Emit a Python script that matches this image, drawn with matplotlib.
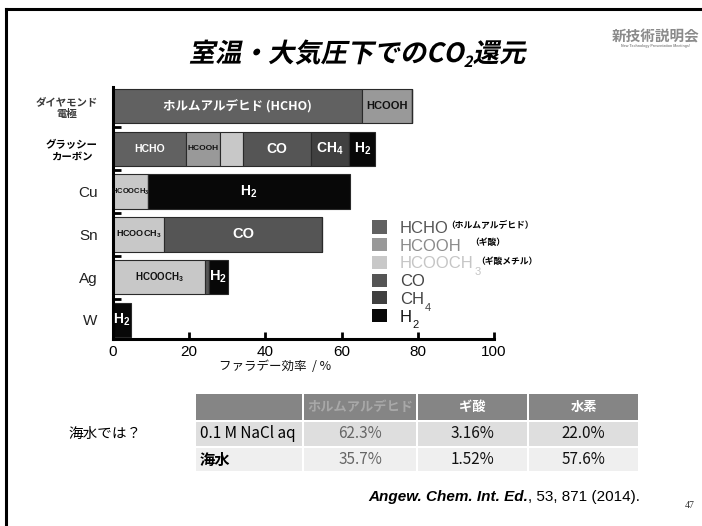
import matplotlib
matplotlib.use("Agg")
import matplotlib.pyplot as plt
from matplotlib.patches import Rectangle
from matplotlib.patheffects import AbstractPathEffect
from matplotlib.transforms import Affine2D
from matplotlib.lines import Line2D

W_PX, H_PX = 702, 526
JP = ["Noto Sans CJK JP", "DejaVu Sans"]
SANS = ["Liberation Sans", "DejaVu Sans"]

plt.rcParams["mathtext.fontset"] = "custom"
plt.rcParams["mathtext.rm"] = "Liberation Sans:bold"
plt.rcParams["mathtext.it"] = "Liberation Sans:bold"
plt.rcParams["mathtext.bf"] = "Liberation Sans:bold"

# ---- Faradaic efficiency (%) per electrode, stacked by product ----
electrodes = ["ダイヤモンド\n電極", "グラッシー\nカーボン", "Cu", "Sn", "Ag", "W"]
positions = [5, 4, 3, 2, 1, 0]
products = ["HCHO", "HCOOH", "HCOOCH3", "CO", "CH4", "H2"]
hcho = [65.3, 19.2, 0, 0, 0, 0]
hcooh = [13.2, 8.9, 0, 0, 0, 0]
hcooch3 = [0, 5.9, 9.1, 13.5, 24.2, 0]
co = [0, 18.0, 0, 41.3, 0.9, 0]
ch4 = [0, 10.0, 0, 0, 0, 0]
h2 = [0, 6.8, 53.1, 0, 5.0, 4.6]
series = [hcho, hcooh, hcooch3, co, ch4, h2]
fill_colors = ["#616161", "#999999", "#c8c8c8", "#555555", "#404040", "#080808"]

# in-bar labels: (electrode index, product index, text, size, colour)
bar_labels = [
    (0, 0, "ホルムアルデヒド (HCHO)", 9, "white"),
    (0, 1, "HCOOH", 8, "#111111"),
    (1, 0, "HCHO", 7.5, "white"),
    (1, 1, "HCOOH", 6, "#111111"),
    (1, 3, "CO", 10, "white"),
    (1, 4, "CH$_4$", 10, "white"),
    (1, 5, "H$_2$", 10, "white"),
    (2, 2, "HCOOCH$_3$", 5.5, "#111111"),
    (2, 5, "H$_2$", 10, "white"),
    (3, 2, "HCOOCH$_3$", 6.5, "#111111"),
    (3, 3, "CO", 10.5, "white"),
    (4, 2, "HCOOCH$_3$", 7, "#111111"),
    (4, 5, "H$_2$", 10.5, "white"),
    (5, 5, "H$_2$", 10, "white"),
]

# legend entries
legend_names = ["HCHO", "HCOOH", "HCOOCH", "CO", "CH", "H"]
legend_subs = ["", "", "3", "", "4", "2"]
legend_notes = ["（ホルムアルデヒド）", "（ギ酸）", "（ギ酸メチル）", "", "", ""]
legend_text_colors = ["#555555", "#8a8a8a", "#c5c5c5", "#444444", "#444444", "#111111"]

# seawater comparison table
table_header = ["", "ホルムアルデヒド", "ギ酸", "水素"]
row_names = ["0.1 M NaCl aq", "海水"]
nacl_values = ["62.3%", "3.16%", "22.0%"]
seawater_values = ["35.7%", "1.52%", "57.6%"]

fig = plt.figure(figsize=(W_PX / 100, H_PX / 100), dpi=100)
fig.patch.set_facecolor("white")


def fx(px):
    return px / W_PX


def fy(py):
    return 1 - py / H_PX


class Shear(AbstractPathEffect):
    """Slants glyph outlines to give an oblique look."""

    def __init__(self, deg=12):
        super().__init__()
        self.deg = deg

    def draw_path(self, renderer, gc, tpath, affine, rgbFace=None):
        renderer.draw_path(gc, tpath, Affine2D().skew_deg(self.deg, 0) + affine, rgbFace)


renderer = fig.canvas.get_renderer()


def text_row(pieces, x, y_base, ha="left"):
    """pieces: list of (string, kwargs, dy_px). Placed side by side on one baseline."""
    objs = []
    for s, kw, dy in pieces:
        t = fig.text(0, fy(y_base + dy), s, va="baseline", ha="left", **kw)
        objs.append(t)
    widths = [t.get_window_extent(renderer).width for t in objs]
    total = sum(widths)
    if ha == "center":
        x0 = x - total / 2
    elif ha == "right":
        x0 = x - total
    else:
        x0 = x
    for t, w in zip(objs, widths):
        t.set_x(fx(x0))
        x0 += w
    return objs


# ---- slide frame ----
fig.add_artist(Line2D([fx(6), fx(6)], [fy(9), fy(530)], color="black", lw=2.2))
fig.add_artist(Line2D([fx(6), fx(710)], [fy(9), fy(9)], color="black", lw=2.2))

# ---- title ----
shear = [Shear(12)]
tkw = dict(family=JP, weight="bold", fontsize=19, color="black", path_effects=shear)
skw = dict(family=JP, weight="bold", fontsize=11, color="black", path_effects=shear)
text_row([("室温・大気圧下でのCO", tkw, 0), ("2", skw, 5), ("還元", tkw, 0)], 357, 62, ha="center")

# logo
fig.text(fx(656), fy(36), "新技術説明会", family=JP, weight="bold", fontsize=10.5,
         color="#8a8a8a", ha="center", va="center")
fig.text(fx(656), fy(46.5), "New Technology Presentation Meetings!", family=SANS, weight="bold",
         fontsize=2.6, color="#8a8a8a", ha="center", va="center")

# ---- bar chart ----
ax = fig.add_axes([fx(113), fy(339), (494 - 113) / W_PX, (339 - 86.7) / H_PX])
lefts = [0.0] * len(electrodes)
seg_left = []
for vals, col in zip(series, fill_colors):
    ax.barh(positions, vals, left=lefts, height=0.806, color=col,
            edgecolor="#2a2a2a", linewidth=0.8, zorder=2)
    seg_left.append(list(lefts))
    lefts = [a + b for a, b in zip(lefts, vals)]

for ei, pi, s, size, col in bar_labels:
    xc = seg_left[pi][ei] + series[pi][ei] / 2
    ax.text(xc, positions[ei], s, ha="center", va="center", fontsize=size,
            color=col, weight="bold", family=JP if ei == 0 and pi == 0 else SANS, zorder=3)

ax.set_xlim(0, 100)
ax.set_ylim(-0.444, 5.45)
for side in ("top", "right"):
    ax.spines[side].set_visible(False)
for side in ("left", "bottom"):
    ax.spines[side].set_linewidth(2.2)
    ax.spines[side].set_color("black")

ax.set_xticks([0, 20, 40, 60, 80, 100])
ax.tick_params(axis="x", direction="in", length=5, width=2, pad=4, labelsize=11)
for lbl in ax.get_xticklabels():
    lbl.set_family(SANS)

ax.set_yticks(positions)
ax.set_yticklabels(electrodes)
ax.set_yticks([0.5, 1.5, 2.5, 3.5, 4.5], minor=True)
ax.tick_params(axis="y", which="major", length=0, pad=11)
ax.tick_params(axis="y", which="minor", direction="in", length=6, width=2)
for i, lbl in enumerate(ax.get_yticklabels()):
    if i < 2:
        lbl.set_family(JP)
        lbl.set_weight("bold")
        lbl.set_fontsize(7.5)
        lbl.set_multialignment("center")
        lbl.set_color("#3a3a3a" if i == 0 else "black")
    else:
        lbl.set_family(SANS)
        lbl.set_fontsize(11)
        lbl.set_color("#222222")

fig.text(fx(275), fy(367), "ファラデー効率  / %", family=JP, fontsize=9,
         ha="center", va="center", color="#111111")

# ---- legend ----
for i, (name, sub, note, tcol) in enumerate(zip(legend_names, legend_subs, legend_notes, legend_text_colors)):
    yc = 227 + 17.7 * i
    fig.add_artist(Rectangle((fx(372), fy(yc + 6.5)), 15 / W_PX, 13 / H_PX,
                             facecolor=fill_colors[i], edgecolor="none"))
    t = fig.text(fx(400), fy(yc), name, family=SANS, fontsize=12, color=tcol,
                 ha="left", va="center_baseline")
    w = t.get_window_extent(renderer).width
    if sub:
        fig.text(fx(400 + w + 0.5), fy(yc + 10), sub, family=SANS, fontsize=8,
                 color=tcol, ha="left", va="center")
    if note:
        nx = {0: 446, 1: 470, 2: 476}[i]
        ny = {0: 226, 1: 242, 2: 261}[i]
        fig.text(fx(nx), fy(ny), note, family=JP, weight="bold", fontsize=6.3,
                 color="black", ha="left", va="center")

# ---- table ----
col_edges = [195, 303, 417, 528, 639]
row_edges = [393, 421, 447, 472]
row_bg = ["#858585", "#dedede", "#efefef"]
for r in range(3):
    for c in range(4):
        x0, x1 = col_edges[c] + 1, col_edges[c + 1] - 1
        y0, y1 = row_edges[r] + 1, row_edges[r + 1] - 1
        fig.add_artist(Rectangle((fx(x0), fy(y1)), (x1 - x0) / W_PX, (y1 - y0) / H_PX,
                                 facecolor=row_bg[r], edgecolor="none"))


def cell_center(r, c):
    return (col_edges[c] + col_edges[c + 1]) / 2, (row_edges[r] + row_edges[r + 1]) / 2


for c, s in enumerate(table_header):
    if not s:
        continue
    xc, yc = cell_center(0, c)
    fig.text(fx(xc), fy(yc), s, family=JP, weight="bold", fontsize=9.5,
             color="#a8a8a8" if c == 1 else "white", ha="center", va="center")

for r, (name, vals) in enumerate(zip(row_names, [nacl_values, seawater_values]), start=1):
    _, yc = cell_center(r, 0)
    fig.text(fx(200), fy(yc), name, family=JP, fontsize=11,
             weight="bold" if r == 2 else "normal", color="black", ha="left", va="center")
    for c, v in enumerate(vals, start=1):
        xc, _ = cell_center(r, c)
        fig.text(fx(xc), fy(yc), v, family=JP, fontsize=11,
                 color="#666666" if c == 1 else "#111111", ha="center", va="center")

fig.text(fx(68), fy(434), "海水では？", family=JP, fontsize=10.5, color="black",
         ha="left", va="center")

# ---- reference ----
text_row([("Angew. Chem. Int. Ed.", dict(family=SANS, weight="bold", style="italic",
                                         fontsize=11, color="black"), 0),
          (", 53, 871 (2014).", dict(family=SANS, fontsize=11, color="black"), 0)],
         640, 501, ha="right")

fig.text(fx(690), fy(505), "47", family=["Liberation Serif", "DejaVu Serif"], fontsize=7,
         color="#333333", ha="center", va="center")

fig.savefig("out.png", dpi=100)
